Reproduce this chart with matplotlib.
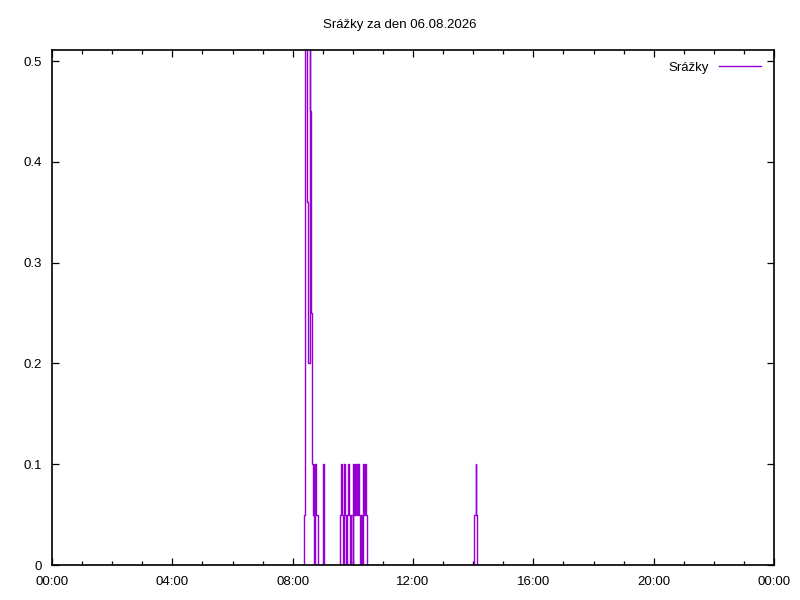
import matplotlib
matplotlib.use("Agg")
import matplotlib.pyplot as plt
from matplotlib.ticker import MultipleLocator

# Data: rainfall steps (minutes since midnight -> value, held until next point)
times_min = [0, 503, 505, 509, 510, 514, 515, 516, 518, 521, 522, 523, 525, 527,
             531, 541, 543,
             574, 576, 579, 581, 583, 585, 587, 589, 591, 593, 595, 597, 600,
             601, 603, 604, 606, 608, 610, 611, 613, 615, 617, 619, 621, 623,
             625, 627, 629,
             842, 845, 846, 847, 1440]
values = [0, 0.05, 0.6, 0.36, 0.2, 0.6, 0.45, 0.25, 0.1, 0.05, 0.1, 0, 0.1, 0.05,
          0, 0.1, 0,
          0.05, 0.1, 0.05, 0, 0.1, 0.05, 0, 0.05, 0.1, 0.05, 0, 0.05, 0,
          0.1, 0.05, 0.1, 0.05, 0.1, 0.05, 0.1, 0.05, 0, 0.05, 0, 0.1, 0.05,
          0.1, 0.05, 0,
          0.05, 0.1, 0.05, 0, 0]
y_ticks = [0, 0.1, 0.2, 0.3, 0.4, 0.5]
y_tick_labels = ["0", "0.1", "0.2", "0.3", "0.4", "0.5"]
x_ticks_h = [0, 4, 8, 12, 16, 20, 24]
x_tick_labels = ["00:00", "04:00", "08:00", "12:00", "16:00", "20:00", "00:00"]
title = "Srážky za den 06.08.2026"
series_name = "Srážky"

plt.rcParams['font.family'] = ['Liberation Sans', 'DejaVu Sans']

fig = plt.figure(figsize=(8, 6), dpi=100)
ax = fig.add_axes([52/800, 35/600, (774-52)/800, (565-50)/600])

hours = [t/60 for t in times_min]
ax.step(hours, values, where='post', color='#9400D3', linewidth=1,
        label=series_name, zorder=2)

ax.set_xlim(0, 24)
ax.set_ylim(0, 0.511)
ax.set_xticks(x_ticks_h)
ax.set_xticklabels(x_tick_labels)
ax.xaxis.set_minor_locator(MultipleLocator(1))
ax.set_yticks(y_ticks)
ax.set_yticklabels(y_tick_labels)

ax.tick_params(axis='both', which='both', direction='in', top=True, right=True,
               labelsize=9.5, colors='black')
ax.tick_params(axis='both', which='major', length=5, width=0.9)
ax.tick_params(axis='both', which='minor', length=3, width=0.9)
ax.tick_params(axis='x', pad=8)
ax.tick_params(axis='y', pad=7)
for s in ax.spines.values():
    s.set_linewidth(1.2)
    s.set_zorder(3)

fig.text(0.5, 1 - 25/600, title, ha='center', va='center', fontsize=9.5)

leg = ax.legend(loc='upper right', frameon=False, markerfirst=False, fontsize=9.5,
                handlelength=3.2, borderaxespad=0.3, bbox_to_anchor=(0.995, 0.995))

fig.savefig("out.png", dpi=100)
